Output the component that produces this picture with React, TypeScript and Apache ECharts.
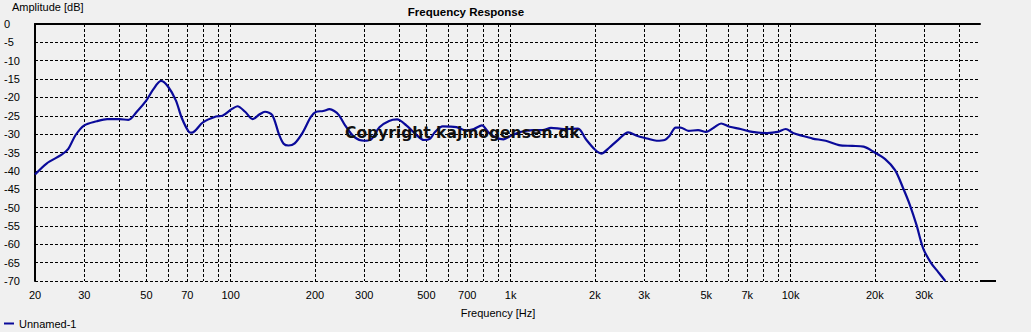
import React, { useEffect, useRef } from "react";
import * as echarts from "echarts";

const freqs = [
  20, 22, 24.9, 26.3, 27.9, 30, 33.2, 36.2, 40, 43.1, 46.2, 50, 52.9, 56.4, 59.8, 63.7, 66.9, 70.9, 72.6,
  79.6, 88.6, 93.5, 100.8, 105.7, 112.6, 119.8, 126.9, 132.6, 140.8, 148.7, 154.6, 161, 169.3, 181, 193.4,
  202, 214, 225.6, 234.4, 243.6, 256.3, 277.5, 300, 318, 340, 368, 393, 424, 458, 490, 516, 536, 572, 640,
  692, 739, 790, 833, 889, 944, 999, 1083, 1202, 1302, 1394, 1550, 1741, 1858, 2000, 2108, 2250, 2432, 2630,
  2843, 3075, 3323, 3549, 3692, 3890, 4045, 4317, 4672, 4986, 5330, 5650, 6060, 6630, 7300, 8240, 9000,
  9610, 10200, 11050, 11990, 13350, 14890, 16600, 18230, 19800, 21770, 23620, 25270, 26690, 28190, 29760,
  31820, 33630, 35700,
];

const amplitudes = [
  -41, -38, -35.6, -34, -30.3, -27.6, -26.5, -25.9, -25.9, -26.1, -23.9, -20.8, -17.8, -15.5, -17.1, -20.8,
  -25.6, -29.4, -29.6, -26.8, -25.2, -25.0, -23.2, -22.4, -23.9, -25.9, -24.6, -23.9, -24.8, -30, -32.6,
  -33.1, -32.5, -29.5, -25.3, -23.9, -23.7, -23.2, -23.7, -24.8, -27.6, -30.9, -31.8, -31.4, -28.1, -26.4,
  -26.0, -27.6, -30, -31.6, -31.2, -29.5, -27.9, -28.1, -29.0, -28.6, -27.6, -29.5, -31.0, -31.4, -30.5,
  -29.4, -28.9, -28.9, -28.3, -28.6, -28.5, -31.4, -34.2, -35.3, -33.7, -31.4, -29.5, -30.5, -31.2, -31.8,
  -31.6, -30.5, -28.2, -28.2, -29.1, -28.9, -29.4, -28.2, -27.1, -28.0, -28.6, -29.4, -29.7, -29.4, -28.6,
  -29.7, -30.5, -31.2, -31.8, -33.0, -33.2, -33.4, -34.8, -36.8, -39.8, -44.8, -49.3, -54.8, -61.1, -65.2,
  -67.5, -70,
];

const gridFreqs = [
  20, 30, 40, 50, 60, 70, 80, 90, 100, 200, 300, 400, 500, 600, 700, 800, 900, 1000, 2000, 3000, 4000,
  5000, 6000, 7000, 8000, 9000, 10000, 20000, 30000, 40000,
];
const labelFreqs = [20, 30, 50, 70, 100, 200, 300, 500, 700, 1000, 2000, 3000, 5000, 7000, 10000, 20000, 30000];

const seriesName = "Unnamed-1";
const chartTitle = "Frequency Response";
const xName = "Frequency [Hz]";
const yName = "Amplitude [dB]";
const watermark = "Copyright kajmogensen.dk";

const fmtFreq = (v: number) => (v >= 1000 ? `${Math.round(v / 1000)}k` : `${Math.round(v)}`);

export default function App() {
  const ref = useRef<HTMLDivElement>(null);
  useEffect(() => {
    if (!ref.current) return;
    const chart = echarts.init(ref.current, null, { renderer: "svg" });
    const font = "'Liberation Sans', Arial, sans-serif";
    const dash = [3, 2];
    chart.setOption({
      animation: false,
      backgroundColor: "#f0f0f0",
      textStyle: { fontFamily: font },
      grid: { left: 35, top: 24, right: 51, bottom: 51 },
      legend: {
        left: 4,
        top: 318,
        padding: 0,
        icon: "rect",
        itemWidth: 10,
        itemHeight: 2,
        itemGap: 5,
        textStyle: { fontSize: 11, color: "#000", fontFamily: font },
        data: [seriesName],
      },
      xAxis: {
        type: "log",
        logBase: 10,
        min: 20,
        max: 47500,
        axisLine: { show: true, lineStyle: { color: "#000", width: 2 } },
        axisTick: {
          show: true,
          customValues: gridFreqs,
          length: 6,
          lineStyle: { color: "#000", type: dash, width: 1 },
        },
        axisLabel: {
          customValues: labelFreqs,
          formatter: (v: number) => fmtFreq(v),
          color: "#000",
          fontSize: 11,
          margin: 8,
          fontFamily: font,
        },
        splitLine: { show: true, lineStyle: { color: "#000", type: dash, width: 1 } },
        minorSplitLine: { show: false },
      },
      yAxis: {
        type: "value",
        min: -70,
        max: 0,
        interval: 5,
        axisLine: { show: true, lineStyle: { color: "#000", width: 2 } },
        axisTick: { show: false },
        axisLabel: { color: "#000", fontSize: 11, align: "left", margin: 31, fontFamily: font },
        splitLine: { show: true, lineStyle: { color: "#000", type: dash, width: 1 } },
      },
      series: [
        {
          name: seriesName,
          type: "line",
          data: freqs.map((f, i) => [f, amplitudes[i]]),
          showSymbol: false,
          smooth: 0.3,
          lineStyle: { color: "#0a0a9a", width: 2.2 },
          itemStyle: { color: "#0a0a9a" },
          z: 3,
        },
      ],
      graphic: [
        {
          type: "text",
          x: 466,
          y: 12,
          style: {
            text: chartTitle,
            font: `bold 11.5px ${font}`,
            fill: "#000",
            align: "center",
            verticalAlign: "middle",
          },
        },
        {
          type: "text",
          x: 12,
          y: 1,
          style: { text: yName, font: `11px ${font}`, fill: "#000" },
        },
        {
          type: "text",
          x: 498,
          y: 313,
          style: { text: xName, font: `11px ${font}`, fill: "#000", align: "center", verticalAlign: "middle" },
        },
        {
          type: "line",
          shape: { x1: 980, y1: 281, x2: 996, y2: 281 },
          style: { stroke: "#000", lineWidth: 2 },
        },
        {
          type: "text",
          x: 345,
          y: 133,
          z: 100,
          style: {
            text: watermark,
            font: `bold 15.5px 'DejaVu Sans', Verdana, sans-serif`,
            fill: "#111",
            verticalAlign: "middle",
          },
        },
      ],
    });
    return () => chart.dispose();
  }, []);
  return (
    <div
      ref={ref}
      style={{ position: "fixed", left: 0, top: 0, width: 1031, height: 332, background: "#f0f0f0" }}
    />
  );
}
